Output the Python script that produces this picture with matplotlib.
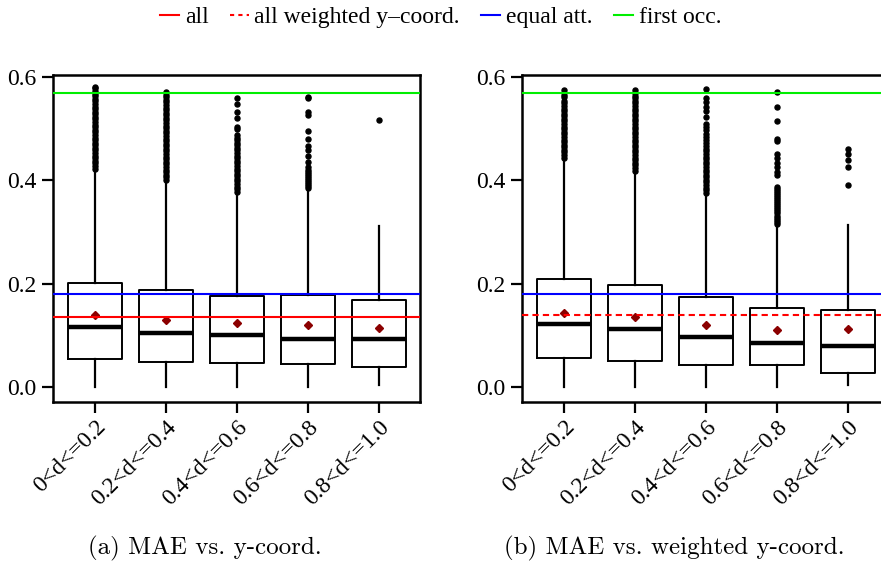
import matplotlib
matplotlib.use("Agg")
import matplotlib.pyplot as plt
from matplotlib.lines import Line2D

categories = ["0<d<=0.2", "0.2<d<=0.4", "0.4<d<=0.6", "0.6<d<=0.8", "0.8<d<=1.0"]
y_ticks = [0.0, 0.2, 0.4, 0.6]

# ---- panel (a): MAE vs. y-coord ----
a_q1 = [0.054, 0.049, 0.046, 0.0445, 0.039]
a_med = [0.116, 0.105, 0.101, 0.093, 0.092]
a_q3 = [0.201, 0.188, 0.176, 0.179, 0.168]
a_wlo = [0.0, 0.0, 0.0, 0.0, 0.003]
a_whi = [0.42, 0.396, 0.375, 0.383, 0.312]
a_mean = [0.139, 0.130, 0.123, 0.121, 0.114]
a_fliers = [
    [0.423, 0.428, 0.433, 0.438, 0.443, 0.448, 0.453, 0.458, 0.463, 0.468, 0.473,
     0.478, 0.483, 0.488, 0.493, 0.498, 0.503, 0.508, 0.513, 0.518, 0.523, 0.528,
     0.533, 0.538, 0.543, 0.548, 0.553, 0.558, 0.563, 0.568, 0.573, 0.578, 0.580],
    [0.401, 0.406, 0.411, 0.416, 0.421, 0.426, 0.431, 0.436, 0.441, 0.446, 0.451,
     0.456, 0.461, 0.466, 0.471, 0.476, 0.481, 0.486, 0.491, 0.496, 0.501, 0.506,
     0.511, 0.516, 0.521, 0.526, 0.531, 0.536, 0.541, 0.546, 0.551, 0.556, 0.561,
     0.566, 0.572],
    [0.378, 0.383, 0.388, 0.393, 0.398, 0.403, 0.408, 0.413, 0.418, 0.423, 0.428,
     0.433, 0.438, 0.443, 0.448, 0.453, 0.458, 0.463, 0.468, 0.473, 0.478, 0.483,
     0.488, 0.499, 0.504, 0.520, 0.532, 0.547, 0.559],
    [0.385, 0.389, 0.393, 0.397, 0.401, 0.405, 0.409, 0.413, 0.417, 0.421, 0.425,
     0.436, 0.447, 0.459, 0.467, 0.481, 0.496, 0.527, 0.533, 0.560, 0.562],
    [0.516],
]
a_all = 0.135

# ---- panel (b): MAE vs. weighted y-coord ----
b_q1 = [0.0556, 0.051, 0.0426, 0.043, 0.0265]
b_med = [0.122, 0.112, 0.097, 0.085, 0.079]
b_q3 = [0.210, 0.197, 0.175, 0.152, 0.150]
b_wlo = [0.0, 0.0, 0.0, 0.0, 0.004]
b_whi = [0.441, 0.417, 0.372, 0.312, 0.313]
b_mean = [0.144, 0.1355, 0.121, 0.110, 0.113]
b_fliers = [
    [0.444, 0.449, 0.454, 0.459, 0.464, 0.469, 0.474, 0.479, 0.484, 0.489, 0.494,
     0.499, 0.504, 0.509, 0.514, 0.519, 0.524, 0.529, 0.534, 0.539, 0.544, 0.549,
     0.554, 0.561, 0.566, 0.575],
    [0.419, 0.424, 0.429, 0.434, 0.439, 0.444, 0.449, 0.454, 0.459, 0.464, 0.469,
     0.474, 0.479, 0.484, 0.489, 0.494, 0.499, 0.504, 0.509, 0.514, 0.519, 0.524,
     0.529, 0.534, 0.539, 0.544, 0.549, 0.554, 0.559, 0.564, 0.569, 0.575],
    [0.376, 0.381, 0.386, 0.391, 0.396, 0.401, 0.406, 0.411, 0.416, 0.421, 0.426,
     0.431, 0.436, 0.441, 0.446, 0.451, 0.456, 0.461, 0.466, 0.472, 0.478, 0.484,
     0.490, 0.497, 0.504, 0.510, 0.522, 0.535, 0.543, 0.551, 0.560, 0.577],
    [0.316, 0.320, 0.324, 0.328, 0.332, 0.336, 0.340, 0.344, 0.348, 0.352, 0.356,
     0.360, 0.364, 0.368, 0.372, 0.376, 0.380, 0.384, 0.388, 0.410, 0.417, 0.425,
     0.433, 0.443, 0.451, 0.477, 0.4795, 0.514, 0.543, 0.572],
    [0.392, 0.426, 0.4395, 0.4505, 0.461],
]
b_all_weighted = 0.140

equal_att = 0.180
first_occ = 0.569

legend_labels = ["all", "all weighted y\u2013coord.", "equal att.", "first occ."]
captions = ["(a) MAE vs. y-coord.", "(b) MAE vs. weighted y-coord."]

RED = "#ff0000"
BLUE = "#0000ff"
GREEN = "#00ee00"
MEAN_COL = "#8b0000"

plt.rcParams["font.family"] = ["Liberation Serif", "DejaVu Serif"]

fig = plt.figure(figsize=(8.81, 5.65), dpi=100)
W, H = 881.0, 565.0
ax_a = fig.add_axes([53 / W, 1 - 402 / H, 367 / W, 327 / H])
ax_b = fig.add_axes([522 / W, 1 - 402 / H, 367 / W, 327 / H])


def draw_panel(ax, q1, med, q3, wlo, whi, mean, fliers):
    stats = []
    for i in range(len(categories)):
        stats.append(dict(q1=q1[i], med=med[i], q3=q3[i], whislo=wlo[i],
                          whishi=whi[i], mean=mean[i], fliers=fliers[i],
                          label=categories[i]))
    ax.bxp(stats, positions=range(1, len(categories) + 1), widths=0.76,
           showmeans=True, showcaps=False,
           boxprops=dict(color="black", linewidth=1.4),
           whiskerprops=dict(color="black", linewidth=1.6, linestyle="-"),
           medianprops=dict(color="black", linewidth=3.2),
           meanprops=dict(marker="D", markerfacecolor=MEAN_COL,
                          markeredgecolor=MEAN_COL, markersize=3.6),
           flierprops=dict(marker="o", markerfacecolor="black",
                           markeredgecolor="black", markersize=3.6))
    ax.set_xlim(0.41, 5.58)
    ax.set_ylim(-0.029, 0.604)
    ax.set_yticks(y_ticks)
    ax.set_yticklabels(["%.1f" % v for v in y_ticks])
    ax.set_xticks(range(1, len(categories) + 1))
    ax.set_xticklabels(categories, rotation=45, ha="right", va="top",
                       rotation_mode="anchor", fontsize=18)
    ax.tick_params(axis="both", direction="out", length=8, width=1.6,
                   labelsize=17, pad=4)
    ax.tick_params(axis="x", pad=2.5)
    for s in ax.spines.values():
        s.set_linewidth(1.8)
    ax.axhline(equal_att, color=BLUE, linewidth=1.5, zorder=3)
    ax.axhline(first_occ, color=GREEN, linewidth=1.5, zorder=3)


draw_panel(ax_a, a_q1, a_med, a_q3, a_wlo, a_whi, a_mean, a_fliers)
ax_a.axhline(a_all, color=RED, linewidth=1.5, zorder=3)
draw_panel(ax_b, b_q1, b_med, b_q3, b_wlo, b_whi, b_mean, b_fliers)
ax_b.axhline(b_all_weighted, color=RED, linewidth=1.5, linestyle=(0, (3, 2)),
             zorder=3)

handles = [Line2D([], [], color=RED, linewidth=1.5),
           Line2D([], [], color=RED, linewidth=1.5, linestyle=(0, (2, 2))),
           Line2D([], [], color=BLUE, linewidth=1.5),
           Line2D([], [], color=GREEN, linewidth=1.5)]
fig.legend(handles, legend_labels, loc="center", bbox_to_anchor=(0.5, 1 - 17 / H),
           ncol=4, frameon=False, fontsize=17, handlelength=0.8,
           handletextpad=0.25, columnspacing=0.9, borderaxespad=0)

fig.text(205 / W, 1 - 548 / H, captions[0], ha="center", va="center",
         fontsize=18, family="cmr10")
fig.text(674 / W, 1 - 548 / H, captions[1], ha="center", va="center",
         fontsize=18, family="cmr10")

fig.savefig("out.png", dpi=100)
